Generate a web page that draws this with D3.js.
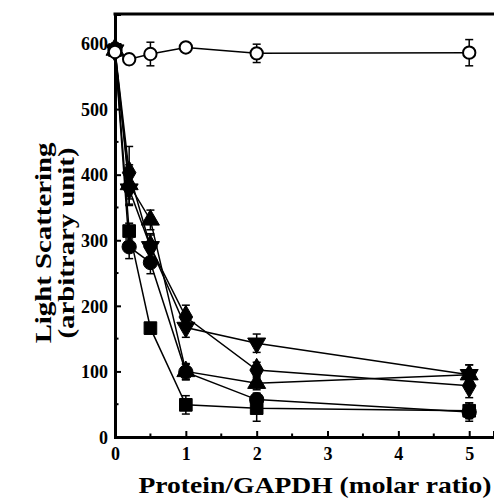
<!DOCTYPE html>
<html>
<head>
<meta charset="utf-8">
<script src="https://cdn.jsdelivr.net/npm/d3@7"></script>
<style>
  body { margin: 0; background: #fff; }
  svg { display: block; }
</style>
</head>
<body>
<div id="chart"></div>
<script>
var width = 494, height = 500;

// molar ratio
var ratios = [0, 0.2, 0.5, 1, 2, 5];

// light scattering values for each series (same order as ratios)
var ctrlVals  = [587, 576, 584, 594, 585, 586];
var ctrlErr   = [8, 8, 18, 7, 14, 20];
var squareVals = [590, 314, 166, 49, 44, 40];
var squareErr  = [10, 12, 5, 14, 20, 12];
var circleVals = [590, 290, 266, 99, 57, 38];
var circleErr  = [10, 18, 17, 12, 10, 14];
var upVals   = [590, 385, 331, 100, 82, 95];
var upErr    = [10, 30, 15, 12, 10, 15];
var downVals = [590, 378, 290, 167, 143, 95];
var downErr  = [10, 25, 18, 15, 14, 15];
var diaVals  = [590, 403, 290, 183, 102, 78];
var diaErr   = [10, 40, 20, 18, 12, 18];

var xTicks = [0, 1, 2, 3, 4, 5];
var yTicks = [0, 100, 200, 300, 400, 500, 600];

var series = [
  {vals: squareVals, err: squareErr, sym: d3.symbolSquare, size: 160, open: false},
  {vals: circleVals, err: circleErr, sym: d3.symbolCircle, size: 160, open: false},
  {vals: upVals, err: upErr, sym: d3.symbolTriangle, size: 140, open: false, rot: 0},
  {vals: downVals, err: downErr, sym: d3.symbolTriangle, size: 140, open: false, rot: 180},
  {vals: diaVals, err: diaErr, sym: d3.symbolDiamond, size: 160, open: false},
  {vals: ctrlVals, err: ctrlErr, sym: d3.symbolCircle, size: 120, open: true}
];

var x = d3.scaleLinear().domain([0, 5.35]).range([115, 494]);
var y = d3.scaleLinear().domain([0, 645]).range([437, 14]);

var svg = d3.select("#chart").append("svg")
  .attr("width", width)
  .attr("height", height);

var font = "'Liberation Serif', 'Times New Roman', serif";

// axes
var xAxis = d3.axisBottom(x).tickValues(xTicks).tickSize(-6).tickPadding(10).tickFormat(d3.format("d"));
var yAxis = d3.axisLeft(y).tickValues(yTicks).tickSize(-6).tickPadding(7).tickFormat(d3.format("d"));

var gx = svg.append("g").attr("transform", "translate(0," + y(0) + ")").call(xAxis);
var gy = svg.append("g").attr("transform", "translate(" + x(0) + ",0)").call(yAxis);

// minor ticks
svg.append("g").selectAll("line")
  .data(d3.range(0.5, 5.35, 1))
  .enter().append("line")
  .attr("x1", function(d){ return x(d); })
  .attr("x2", function(d){ return x(d); })
  .attr("y1", y(0)).attr("y2", y(0) - 3.5)
  .attr("stroke", "#000").attr("stroke-width", 2);

svg.append("g").selectAll("line")
  .data(d3.range(50, 645, 100))
  .enter().append("line")
  .attr("x1", x(0)).attr("x2", x(0) + 3.5)
  .attr("y1", function(d){ return y(d); })
  .attr("y2", function(d){ return y(d); })
  .attr("stroke", "#000").attr("stroke-width", 2);

[gx, gy].forEach(function(g){
  g.select(".domain").attr("stroke-width", 3);
  g.selectAll(".tick line").attr("stroke-width", 2);
  g.selectAll(".tick text")
    .attr("font-family", font)
    .attr("font-weight", "bold")
    .attr("font-size", "18px")
    .attr("fill", "#000");
});
gy.selectAll(".tick text").attr("dy", "0.35em");

// top frame line
svg.append("line")
  .attr("x1", x(0) - 1.5).attr("x2", width)
  .attr("y1", y(645)).attr("y2", y(645))
  .attr("stroke", "#000").attr("stroke-width", 3);

// lines, error bars and markers
var line = d3.line()
  .x(function(d, i){ return x(ratios[i]); })
  .y(function(d){ return y(d); });

series.forEach(function(s){
  svg.append("path")
    .attr("d", line(s.vals))
    .attr("fill", "none")
    .attr("stroke", "#000")
    .attr("stroke-width", 1.5);
});

series.forEach(function(s){
  var eg = svg.append("g");
  s.vals.forEach(function(v, i){
    var cx = x(ratios[i]);
    var top = y(v + s.err[i]), bot = y(v - s.err[i]);
    eg.append("line").attr("x1", cx).attr("x2", cx).attr("y1", top).attr("y2", bot)
      .attr("stroke", "#000").attr("stroke-width", 1.5);
    eg.append("line").attr("x1", cx - 4).attr("x2", cx + 4).attr("y1", top).attr("y2", top)
      .attr("stroke", "#000").attr("stroke-width", 1.5);
    eg.append("line").attr("x1", cx - 4).attr("x2", cx + 4).attr("y1", bot).attr("y2", bot)
      .attr("stroke", "#000").attr("stroke-width", 1.5);
  });
});

series.forEach(function(s){
  svg.append("g").selectAll("path")
    .data(s.vals)
    .enter().append("path")
    .attr("d", d3.symbol().type(s.sym).size(s.size))
    .attr("transform", function(d, i){
      return "translate(" + x(ratios[i]) + "," + y(d) + ")" + (s.rot ? " rotate(" + s.rot + ")" : "");
    })
    .attr("fill", s.open ? "#fff" : "#000")
    .attr("stroke", "#000")
    .attr("stroke-width", s.open ? 2 : 1);
});

// axis titles (the original lettering is a bit stretched along the text)
svg.append("text")
  .attr("transform", "translate(315,493) scale(1.15,1)")
  .attr("text-anchor", "middle")
  .attr("font-family", font)
  .attr("font-weight", "bold")
  .attr("font-size", "24px")
  .text("Protein/GAPDH (molar ratio)");

var yt = svg.append("text")
  .attr("transform", "translate(51,243) rotate(-90) scale(1.2,1)")
  .attr("text-anchor", "middle")
  .attr("font-family", font)
  .attr("font-weight", "bold")
  .attr("font-size", "24px");
yt.append("tspan").attr("x", 0).attr("dy", 0).text("Light Scattering");
yt.append("tspan").attr("x", 0).attr("dy", 23).text("(arbitrary unit)");
</script>
</body>
</html>
